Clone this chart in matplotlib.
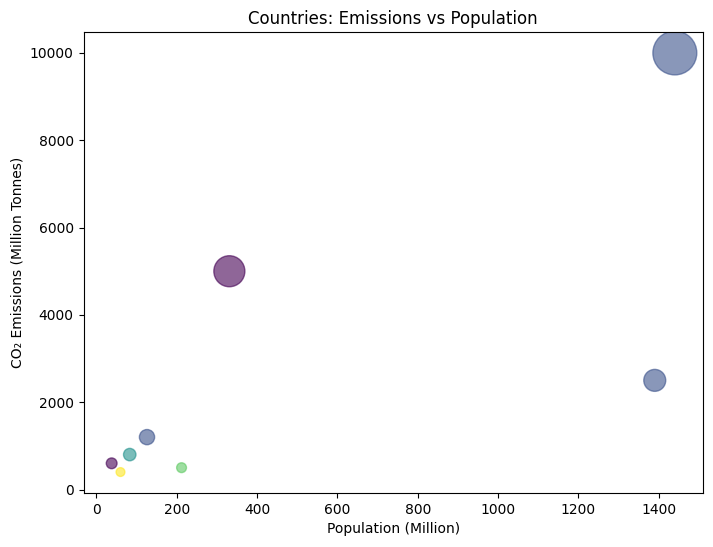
import numpy as np
import matplotlib
matplotlib.use("Agg")
import matplotlib.pyplot as plt

# country data
countries = ['China', 'USA', 'India', 'Japan', 'Germany', 'Canada', 'Italy', 'Brazil']
population = [1440, 331, 1390, 126, 83, 38, 60, 212]          # million
emissions = [10000, 5000, 2500, 1200, 800, 600, 400, 500]    # million tonnes
group = [1, 0, 1, 1, 2, 0, 4, 3]                              # colour code

sizes = np.array(emissions) / 10

fig = plt.figure(figsize=(7.13, 5.47), dpi=100)
ax = fig.add_subplot(111)
fig.subplots_adjust(left=83.5/713, right=703/713, top=1-32/547, bottom=1-493/547)

ax.scatter(population, emissions, s=sizes, c=group, cmap='viridis', alpha=0.6)
ax.set_xlabel("Population (Million)")
ax.set_ylabel("CO₂ Emissions (Million Tonnes)")
ax.set_title("Countries: Emissions vs Population")

fig.savefig("out.png", dpi=100)
